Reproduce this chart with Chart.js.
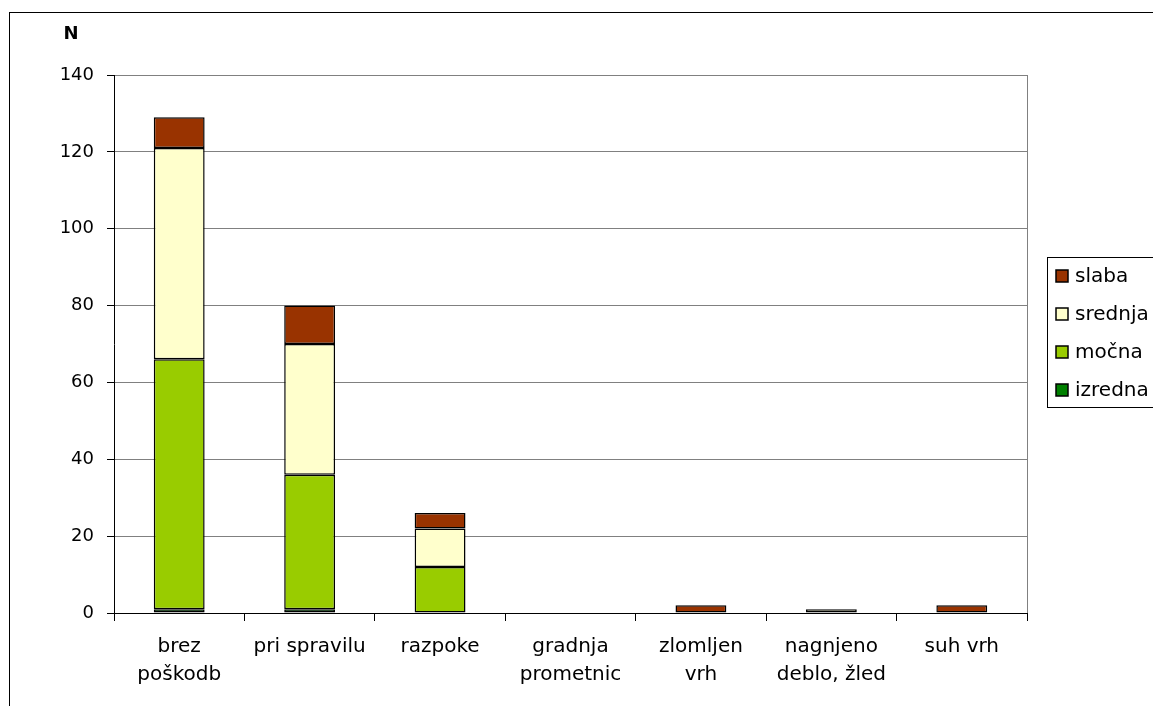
<!DOCTYPE html>
<html>
<head>
<meta charset="utf-8">
<script src="https://cdn.jsdelivr.net/npm/chart.js@4"></script>
<style>
  html, body { margin: 0; padding: 0; background: #fff; }
  #wrap { width: 1153px; height: 706px; }
</style>
</head>
<body>
<div id="wrap"><canvas id="chart" width="1153" height="706"></canvas></div>
<script>
// categories (two-line labels)
const categories = [
  ["brez", "poškodb"],
  ["pri spravilu"],
  ["razpoke"],
  ["gradnja", "prometnic"],
  ["zlomljen", "vrh"],
  ["nagnjeno", "deblo, žled"],
  ["suh vrh"]
];

// series, bottom to top
const izredna = [1, 1, 0, 0, 0, 0, 0];
const mocna   = [65, 35, 12, 0, 0, 0, 0];
const srednja = [55, 34, 10, 0, 0, 1, 0];
const slaba   = [8, 10, 4, 0, 2, 0, 2];

const yTicks = [0, 20, 40, 60, 80, 100, 120, 140];

const FONT = "'DejaVu Sans', Arial, sans-serif";

// plot area in pixels
const area = { left: 114, top: 75, right: 1027, bottom: 613 };

const legendItems = [
  { label: "slaba", color: "#993300" },
  { label: "srednja", color: "#FFFFCC" },
  { label: "močna", color: "#99CC00" },
  { label: "izredna", color: "#008000" }
];

const extras = {
  id: "extras",
  afterDraw(chart) {
    const ctx = chart.ctx;
    const ca = chart.chartArea;
    ctx.save();
    // outer frame
    ctx.strokeStyle = "#000";
    ctx.lineWidth = 1;
    ctx.strokeRect(9.5, 12.5, 1300, 900);
    // plot area right edge
    ctx.strokeStyle = "#808080";
    ctx.beginPath();
    ctx.moveTo(Math.round(ca.right) + 0.5, ca.top);
    ctx.lineTo(Math.round(ca.right) + 0.5, ca.bottom);
    ctx.stroke();
    // axis title N
    ctx.fillStyle = "#000";
    ctx.font = "bold 18px " + FONT;
    ctx.textAlign = "center";
    ctx.textBaseline = "middle";
    ctx.fillText("N", 71, 34);
    // legend
    ctx.strokeStyle = "#000";
    ctx.lineWidth = 1;
    ctx.strokeRect(1047.5, 257.5, 200, 150);
    ctx.font = "20px " + FONT;
    ctx.textAlign = "left";
    legendItems.forEach((it, i) => {
      const cy = 276 + i * 38;
      ctx.fillStyle = it.color;
      ctx.fillRect(1056, cy - 6, 12, 12);
      ctx.strokeStyle = "#000";
      ctx.lineWidth = 1.5;
      ctx.strokeRect(1056, cy - 6, 12, 12);
      ctx.fillStyle = "#000";
      ctx.fillText(it.label, 1075, cy + 1);
    });
    ctx.restore();
  }
};

const mk = (label, data, color) => ({
  label: label,
  data: data,
  backgroundColor: color,
  borderColor: "#000",
  borderWidth: 1.5,
  borderSkipped: false,
  barPercentage: 0.39,
  categoryPercentage: 1.0
});

new Chart(document.getElementById("chart"), {
  type: "bar",
  data: {
    labels: categories,
    datasets: [
      mk("izredna", izredna, "#008000"),
      mk("močna", mocna, "#99CC00"),
      mk("srednja", srednja, "#FFFFCC"),
      mk("slaba", slaba, "#993300")
    ]
  },
  options: {
    responsive: false,
    animation: false,
    layout: { padding: { left: 0, top: area.top, right: 1153 - area.right, bottom: 0 } },
    plugins: { legend: { display: false }, tooltip: { enabled: false } },
    scales: {
      x: {
        stacked: true,
        afterFit(scale) { scale.height = 706 - area.bottom; },
        grid: {
          offset: true,
          drawOnChartArea: false,
          drawTicks: true,
          tickLength: 8,
          tickColor: "#000",
          color: "#000"
        },
        border: { color: "#000", width: 1 },
        ticks: {
          color: "#000",
          font: { family: FONT, size: 20, lineHeight: 1.4 },
          padding: 12,
          maxRotation: 0,
          autoSkip: false
        }
      },
      y: {
        stacked: true,
        min: 0,
        max: 140,
        afterFit(scale) { scale.width = area.left; },
        afterBuildTicks(scale) { scale.ticks = yTicks.map(v => ({ value: v })); },
        grid: {
          color: "#808080",
          lineWidth: 1,
          drawTicks: true,
          tickLength: 7,
          tickColor: "#000"
        },
        border: { color: "#000", width: 1 },
        ticks: {
          color: "#000",
          font: { family: FONT, size: 18 },
          padding: 13
        }
      }
    }
  },
  plugins: [extras]
});
</script>
</body>
</html>
